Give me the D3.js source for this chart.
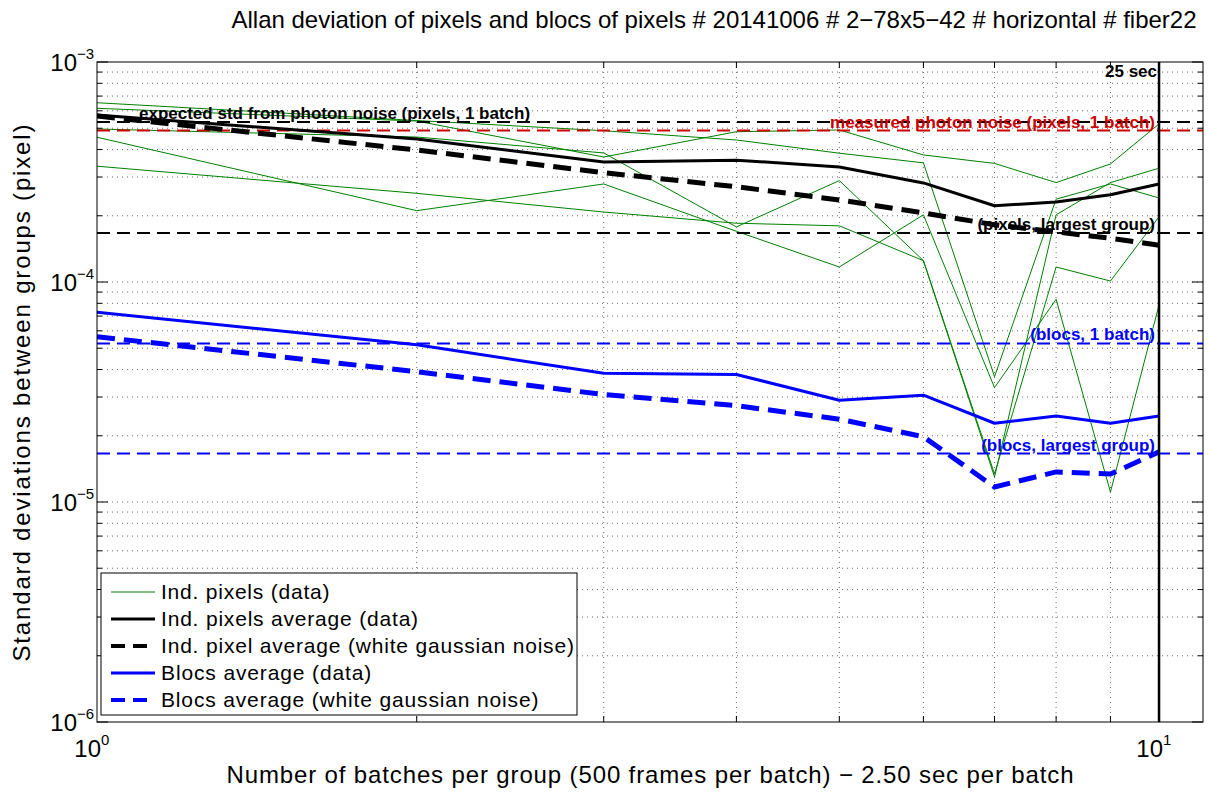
<!DOCTYPE html>
<html><head><meta charset="utf-8">
<script src="https://cdn.jsdelivr.net/npm/d3@7"></script>
<style>
body{margin:0;background:#fff}
text{font-family:"Liberation Sans",Arial,Helvetica,sans-serif}
</style>
</head><body>
<svg id="chart" width="1209" height="794"></svg>
<script>
// ---------------- data ----------------
const batches = [1, 2, 3, 4, 5, 6, 7, 8, 9, 10];

// individual pixels (data), green thin lines
const pixelA = [6.53e-4, 5.42e-4, 4.87e-4, 4.42e-4, 3.85e-4, 3.48e-4, 3.71e-5, 2.38e-4, 2.79e-4, 2.41e-4];
const pixelB = [6.16e-4, 5.39e-4, 3.70e-4, 4.82e-4, 4.91e-4, 3.78e-4, 3.46e-4, 2.83e-4, 3.44e-4, 5.23e-4];
const pixelC = [4.96e-4, 4.56e-4, 3.86e-4, 1.78e-4, 2.89e-4, 1.25e-4, 1.30e-5, 2.02e-4, 2.83e-4, 3.29e-4];
const pixelD = [4.55e-4, 2.11e-4, 2.79e-4, 1.70e-4, 1.17e-4, 2.02e-4, 3.31e-5, 8.34e-5, 1.11e-5, 7.86e-5];
const pixelE = [3.36e-4, 2.53e-4, 2.08e-4, 1.85e-4, 1.80e-4, 1.25e-4, 1.34e-5, 1.17e-4, 1.01e-4, 1.98e-4];

const pixelAverage      = [5.74e-4, 4.47e-4, 3.51e-4, 3.58e-4, 3.33e-4, 2.82e-4, 2.22e-4, 2.31e-4, 2.49e-4, 2.79e-4];
const pixelNoiseAverage = [5.68e-4, 3.98e-4, 3.14e-4, 2.71e-4, 2.36e-4, 2.06e-4, 1.82e-4, 1.69e-4, 1.58e-4, 1.47e-4];
const blocsAverage      = [7.28e-5, 5.18e-5, 3.85e-5, 3.80e-5, 2.90e-5, 3.06e-5, 2.28e-5, 2.46e-5, 2.28e-5, 2.46e-5];
const blocsNoiseAverage = [5.64e-5, 3.91e-5, 3.08e-5, 2.74e-5, 2.38e-5, 1.98e-5, 1.17e-5, 1.37e-5, 1.34e-5, 1.69e-5];

// reference horizontal levels
const refLevels = [5.34e-4, 4.88e-4, 1.67e-4, 5.26e-5, 1.66e-5];
const refLabels = ["expected std from photon noise (pixels, 1 batch)", "measured photon noise (pixels, 1 batch)",
                   "(pixels, largest group)", "(blocs, 1 batch)", "(blocs, largest group)"];
const refColors = ["#000000", "#cc0000", "#000000", "#0000ff", "#0000ff"];

const markerBatch = 10;             // vertical line
const markerLabel = "25 sec";

const xTickValues = [1, 10];
const xTickExp = ["0", "1"];
const yTickValues = [1e-6, 1e-5, 1e-4, 1e-3];
const yTickExp = ["\u22126", "\u22125", "\u22124", "\u22123"];

const legendLabels = ["Ind. pixels (data)", "Ind. pixels average (data)", "Ind. pixel average (white gaussian noise)",
                      "Blocs average (data)", "Blocs average (white gaussian noise)"];

const titleText = "Allan deviation of pixels and blocs of pixels # 20141006 # 2\u221278x5\u221242 # horizontal # fiber22";
const xLabelText = "Number of batches per group (500 frames per batch) \u2212 2.50 sec per batch";
const yLabelText = "Standard deviations between groups (pixel)";

// ---------------- layout ----------------
const L = 97, T = 62, R = 1203, B = 722;
const svg = d3.select("#chart");
const x = d3.scaleLog().domain([1, 11]).range([L, R]);
const y = d3.scaleLog().domain([1e-6, 1e-3]).range([B, T]);

svg.append("rect").attr("width", 1209).attr("height", 794).attr("fill", "#fff");
svg.append("defs").append("clipPath").attr("id", "clip")
  .append("rect").attr("x", L).attr("y", T).attr("width", R - L).attr("height", B - T);

// grid
const xGrid = d3.range(2, 11);
const yGrid = [];
for (let k = -6; k <= -4; k++) for (let m = 1; m <= 9; m++) yGrid.push(m * Math.pow(10, k));
const grid = svg.append("g").attr("stroke", "#444").attr("stroke-width", 0.8).attr("stroke-dasharray", "1,4");
grid.selectAll(".gx").data(xGrid).join("line")
  .attr("x1", d => x(d)).attr("x2", d => x(d)).attr("y1", T).attr("y2", B);
grid.selectAll(".gy").data(yGrid.filter(v => v > 1e-6)).join("line")
  .attr("y1", d => y(d)).attr("y2", d => y(d)).attr("x1", L).attr("x2", R);

const plot = svg.append("g").attr("clip-path", "url(#clip)");
const line = d3.line().x((d, i) => x(batches[i])).y(d => y(d));

// green pixel lines
[pixelA, pixelB, pixelC, pixelD, pixelE].forEach(s => {
  plot.append("path").datum(s).attr("d", line).attr("fill", "none")
    .attr("stroke", "#008000").attr("stroke-width", 1);
});

// reference dashed horizontal lines
refLevels.forEach((v, i) => {
  plot.append("line").attr("x1", L).attr("x2", R).attr("y1", y(v)).attr("y2", y(v))
    .attr("stroke", refColors[i]).attr("stroke-width", 2).attr("stroke-dasharray", "13,7");
});

// averages
plot.append("path").datum(pixelAverage).attr("d", line).attr("fill", "none")
  .attr("stroke", "#000").attr("stroke-width", 3).attr("stroke-linejoin", "round");
plot.append("path").datum(pixelNoiseAverage).attr("d", line).attr("fill", "none")
  .attr("stroke", "#000").attr("stroke-width", 5).attr("stroke-dasharray", "18,9");
plot.append("path").datum(blocsAverage).attr("d", line).attr("fill", "none")
  .attr("stroke", "#0000ff").attr("stroke-width", 3).attr("stroke-linejoin", "round");
plot.append("path").datum(blocsNoiseAverage).attr("d", line).attr("fill", "none")
  .attr("stroke", "#0000ff").attr("stroke-width", 5).attr("stroke-dasharray", "18,9");

// vertical marker
plot.append("line").attr("x1", x(markerBatch)).attr("x2", x(markerBatch)).attr("y1", T).attr("y2", B)
  .attr("stroke", "#000").attr("stroke-width", 2.5);

// reference labels
const lab = svg.append("g").attr("font-weight", "bold").attr("font-size", 17);
lab.append("text").attr("x", 139).attr("y", y(refLevels[0]) - 3).attr("fill", refColors[0]).text(refLabels[0]);
[1, 2, 3, 4].forEach(i => {
  lab.append("text").attr("x", 1155).attr("y", y(refLevels[i]) - 3).attr("text-anchor", "end")
    .attr("fill", refColors[i]).text(refLabels[i]);
});
lab.append("text").attr("x", 1157).attr("y", 77).attr("text-anchor", "end").attr("font-size", 17).text(markerLabel);

// axes box & ticks
const ax = svg.append("g").attr("stroke", "#000").attr("stroke-width", 1);
ax.append("rect").attr("x", L).attr("y", T).attr("width", R - L).attr("height", B - T).attr("fill", "none");
const yTicks = yGrid.concat([1e-3]);
yTicks.forEach(v => {
  const major = Math.abs(Math.log10(v) - Math.round(Math.log10(v))) < 1e-9;
  const len = major ? 11 : 5;
  ax.append("line").attr("x1", L).attr("x2", L + len).attr("y1", y(v)).attr("y2", y(v));
  ax.append("line").attr("x1", R).attr("x2", R - len).attr("y1", y(v)).attr("y2", y(v));
});
xGrid.forEach(v => {
  const len = v === 10 ? 11 : 6;
  ax.append("line").attr("x1", x(v)).attr("x2", x(v)).attr("y1", B).attr("y2", B - len);
  ax.append("line").attr("x1", x(v)).attr("x2", x(v)).attr("y1", T).attr("y2", T + len);
});

// tick labels
const tl = svg.append("g").attr("font-size", 24).attr("fill", "#000");
yTickValues.forEach((v, i) => {
  tl.append("text").attr("x", 77).attr("y", y(v) + 9).attr("text-anchor", "end").text("10");
  tl.append("text").attr("x", 77).attr("y", y(v) - 3).attr("font-size", 15).text(yTickExp[i]);
});
xTickValues.forEach((v, i) => {
  tl.append("text").attr("x", x(v) + 4).attr("y", 757).attr("text-anchor", "end").text("10");
  tl.append("text").attr("x", x(v) + 4).attr("y", 745).attr("font-size", 15).text(xTickExp[i]);
});

// fit helper: adjust text spacing to a target width
function fit(sel, w) { sel.attr("textLength", w).attr("lengthAdjust", "spacing"); }

// title and axis labels
const tt = svg.append("text").attr("x", 714).attr("y", 28).attr("text-anchor", "middle").attr("font-size", 24).text(titleText);
fit(tt, 965);
const xl = svg.append("text").attr("x", 650).attr("y", 783).attr("text-anchor", "middle").attr("font-size", 24).text(xLabelText);
fit(xl, 847);
const yl = svg.append("text").attr("transform", "translate(30,393) rotate(-90)").attr("text-anchor", "middle").attr("font-size", 24).text(yLabelText);
fit(yl, 537);

// legend
const lg = svg.append("g");
lg.append("rect").attr("x", 101).attr("y", 573).attr("width", 476).attr("height", 142)
  .attr("fill", "#fff").attr("stroke", "#000").attr("stroke-width", 1);
const legStyles = [
  {c: "#008000", w: 1, d: null},
  {c: "#000", w: 3, d: null},
  {c: "#000", w: 4, d: "14,8"},
  {c: "#0000ff", w: 3, d: null},
  {c: "#0000ff", w: 4, d: "14,8"}
];
legendLabels.forEach((s, i) => {
  const cy = 592 + i * 27;
  const st = legStyles[i];
  const l = lg.append("line").attr("x1", 111).attr("x2", 155).attr("y1", cy).attr("y2", cy)
    .attr("stroke", st.c).attr("stroke-width", st.w);
  if (st.d) l.attr("stroke-dasharray", st.d);
  const t = lg.append("text").attr("x", 161).attr("y", cy + 7).attr("font-size", 21).text(s);
  const n = t.node().getComputedTextLength();
  fit(t, n * 1.085);
});
</script>
</body></html>
